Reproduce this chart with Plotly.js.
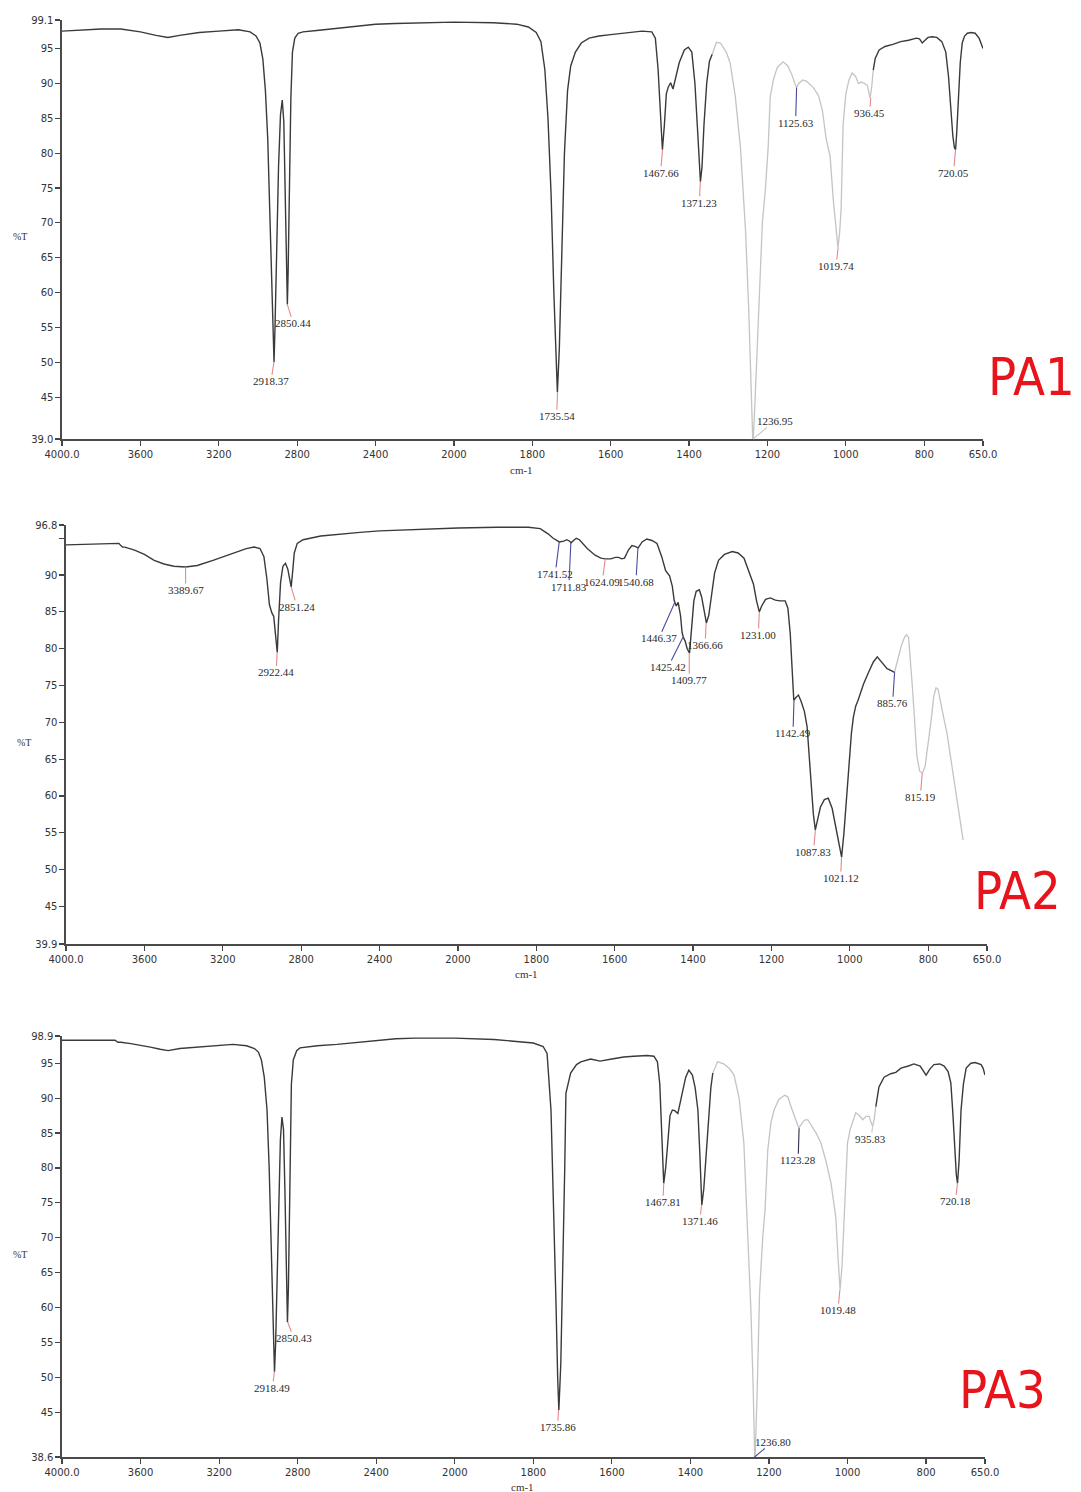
<!DOCTYPE html>
<html><head><meta charset="utf-8">
<script src="https://cdn.plot.ly/plotly-3.0.1.min.js"></script>
<style>html,body{margin:0;padding:0;background:#fff}#chart{width:1081px;height:1492px}</style>
</head><body><div id="chart"></div>
<script>
// ---------- DATA ----------
const xTickWn = [4000,3600,3200,2800,2400,2000,1800,1600,1400,1200,1000,800,650];
const xTickText = ["4000.0","3600","3200","2800","2400","2000","1800","1600","1400","1200","1000","800","650.0"];

const pa1YTicks = [39.0,45,50,55,60,65,70,75,80,85,90,95,99.1];
const pa1YText = ["39.0","45","50","55","60","65","70","75","80","85","90","95","99.1"];
const pa2YTicks = [39.9,45,50,55,60,65,70,75,80,85,90,95,96.8];
const pa2YText = ["39.9","45","50","55","60","65","70","75","80","85","90","","96.8"];
const pa3YTicks = [38.6,45,50,55,60,65,70,75,80,85,90,95,98.9];
const pa3YText = ["38.6","45","50","55","60","65","70","75","80","85","90","95","98.9"];

const pa1Wn = [4000,3900,3800,3700,3600,3520,3460,3400,3300,3200,3100,3040,3010,2990,2975,2962,2950,2940,2930,2922,2918,2913,2905,2895,2885,2876,2868,2862,2856,2850,2846,2840,2832,2824,2812,2795,2770,2700,2600,2500,2400,2300,2200,2100,2000,1900,1840,1810,1790,1778,1768,1760,1752,1745,1740,1736,1731,1725,1718,1710,1702,1690,1675,1655,1630,1600,1560,1520,1495,1486,1479,1473,1468,1463,1458,1453,1447,1441,1435,1425,1412,1402,1393,1385,1379,1374,1371,1367,1362,1355,1348,1341,
1330,1320,1305,1295,1282,1269,1256,1248,1242,1237,1232,1228,1220,1213,1205,1198,1193,1185,1175,1160,1148,1138,1130,1126,1120,1110,1100,1083,1070,1060,1050,1040,1032,1025,1020,1016,1012,1007,1000,992,984,975,968,960,952,945,938,934,930,
925,915,900,880,860,840,820,812,805,798,790,780,768,755,745,738,732,727,723,720,717,713,708,703,697,690,680,670,660,650];
const pa1T = [97.5,97.7,97.8,97.8,97.4,96.9,96.6,96.9,97.3,97.5,97.7,97.4,96.8,95.8,93.5,89,82,72,61,53,50.0,55,66,78,85.5,87.6,84.5,76,65,58.3,63,76,88,94.5,96.5,97.2,97.4,97.6,97.9,98.3,98.5,98.6,98.7,98.7,98.8,98.7,98.5,98.1,97.3,96,92,85,74,60,50,45.7,52,65,80,89,92.5,94.5,95.8,96.5,96.8,97.0,97.3,97.5,97.4,96.5,92,85,80.5,84,88.5,89.5,90.1,89.2,90.5,93.0,94.8,95.2,94.5,90,84,78,75.9,78,84,90,93.2,94.2,
95.9,95.8,94.5,92.9,88.1,80.9,69,58,48,38.0,44,50,62,70,75,81,88,90.5,92.3,93.1,92.5,91.3,90.0,89.4,90.0,90.5,90.3,89.4,88.3,86.2,82,79.5,73.3,69,66.4,68.5,72,84,88.5,90.5,91.5,91.0,90.0,90.2,90.0,89.7,87.9,89.5,91.9,
93.6,94.8,95.3,95.6,96.0,96.2,96.5,96.4,95.8,96.2,96.6,96.7,96.6,96.0,94.5,91,86,82.5,80.8,80.5,83,88,93,95.8,96.8,97.2,97.3,97.2,96.5,95.0];

const pa2Wn = [4000,3900,3800,3730,3720,3712,3700,3650,3600,3550,3500,3450,3390,3330,3250,3150,3080,3040,3010,2990,2975,2962,2950,2940,2932,2922,2915,2905,2893,2880,2868,2858,2851,2845,2835,2820,2790,2700,2600,2500,2400,2300,2200,2100,2000,1900,1820,1790,1770,1757,1741,1730,1722,1715,1711,1705,1698,1690,1670,1650,1635,1624,1610,1598,1590,1582,1575,1565,1556,1548,1540,1530,1518,1505,1492,1480,1470,1460,1453,1448,1443,1438,1432,1428,1425,1420,1415,1409,1403,1398,1392,1384,1378,1372,1366,1360,1352,1345,1335,1320,1300,1285,1270,1258,1246,1238,1231,1225,1215,1203,1190,1178,1165,1158,1152,1147,1143,1137,1131,1124,1116,1109,1100,1093,1088,1083,1075,1065,1055,1045,1035,1027,1021,1015,1008,1004,996,991,985,979,965,953,940,930,918,905,897,890,886,
878,868,860,855,850,845,840,835,829,822,815,808,800,792,786,780,775,768,760,752,742,735,727,718,711];
const pa2T = [94.1,94.2,94.3,94.3,94.0,93.8,93.8,93.4,92.8,92.0,91.5,91.2,91.1,91.3,92.0,93.0,93.6,93.8,93.6,92.5,89.5,86,84.9,84.4,82,79.5,84,89,91.2,91.6,90.8,89,88.4,90,93,94.3,94.8,95.3,95.6,95.8,96.0,96.1,96.2,96.3,96.4,96.5,96.5,96.3,95.6,95.0,94.5,94.6,94.8,94.6,94.4,94.7,95.0,94.8,93.6,92.7,92.3,92.2,92.2,92.4,92.4,92.2,92.3,93.4,94.0,93.9,93.7,94.5,94.9,94.7,94.3,92.5,90.6,89.9,88.5,86.5,85.8,86.3,84.5,82.2,81.6,81.0,80.0,79.4,83,86.5,87.8,88.0,87,85,83.5,84.5,88,90.3,92,92.8,93.2,93.0,92.3,90.5,88.8,86.5,85.0,85.8,86.7,86.9,86.6,86.5,86.5,85.5,82,77,73.0,73.4,73.7,72.8,71.5,69.4,63,57.5,55.4,56.5,58.5,59.5,59.7,58.3,55.5,53,51.7,55,60,63.9,68.5,70.7,72.2,73.0,75.2,76.7,78.2,78.9,78.2,77.3,77.1,76.9,76.8,
78.5,80.5,81.6,81.9,81.5,78.5,74.5,70.5,65.5,63.4,63.1,64,67,70.5,73.5,74.7,74.5,72.5,70.5,68.5,65,62,59.4,56.5,54.0];

const pa3Wn = [4000,3900,3800,3730,3715,3700,3650,3600,3550,3500,3460,3400,3300,3200,3130,3060,3020,3000,2985,2970,2956,2945,2935,2925,2918,2912,2905,2897,2888,2880,2872,2865,2858,2852,2847,2842,2838,2832,2822,2805,2788,2700,2600,2500,2400,2300,2200,2000,1900,1850,1800,1775,1765,1755,1748,1742,1738,1735,1730,1725,1720,1717,1705,1690,1679,1654,1630,1600,1570,1544,1510,1493,1484,1478,1473,1468,1463,1458,1452,1446,1440,1432,1426,1420,1412,1404,1395,1388,1381,1376,1371,1366,1360,1356,1348,1343,
1331,1315,1300,1289,1276,1264,1255,1246,1240,1236,1230,1224,1216,1210,1203,1195,1187,1175,1160,1152,1144,1135,1128,1124,1115,1108,1101,1090,1080,1068,1055,1042,1030,1024,1019,1014,1009,1004,1000,993,986,979,970,961,953,945,940,936,932,928,
920,907,890,877,864,845,831,815,800,790,780,765,754,744,737,732,728,723,720,716,711,705,698,686,675,668,660,655,650];
const pa3T = [98.3,98.3,98.3,98.3,98.0,98.0,97.8,97.6,97.3,97.0,96.8,97.1,97.3,97.5,97.7,97.5,97.1,96.6,95.5,93,88.3,80,68,57,50.8,55,65,76,84,87.3,85.5,77,66,57.9,63,75,86,92,95.5,96.8,97.2,97.5,97.7,98.0,98.3,98.5,98.6,98.6,98.4,98.2,97.9,97.4,96.4,88.3,75,60,50,45.3,52,65,80,90.7,93.6,94.8,95.2,95.6,95.3,95.6,95.9,96.0,96.1,96.0,95.2,92,86,77.8,80,83.6,87.5,88.3,88.2,87.8,89.5,90.7,93.0,94.0,93.3,91.5,88.3,82,74.7,77,82,85.9,91.5,93.6,
95.2,94.9,94.2,93.3,90,83.6,72,59.6,48,37.5,48,62,70,74,82.6,86.5,88.3,89.8,90.4,90.2,88.8,87.3,86.2,85.7,86.5,86.9,86.9,86.0,85.0,83.6,81,77.8,73.0,67,62.5,66,73.0,79,83.6,85.6,86.9,87.9,87.5,86.9,87.4,87.4,86.5,86.0,87.0,88.8,
91.6,93.0,93.5,93.7,94.3,94.6,94.9,94.6,93.3,94.2,94.8,94.9,94.6,93.8,92.2,88,83.6,79,77.8,81,88.3,92,94.3,95.0,95.1,95.0,94.8,94.3,93.3];

// greyed-out (un-annotated) wavenumber ranges [high, low]
const pa1Grey = [1341, 930];
const pa2Grey = [886, 0];
const pa3Grey = [1343, 928];

// peak picks: label, wavenumber, %T at the curve
const pa1PeakLabel = ["2918.37","2850.44","1735.54","1467.66","1371.23","1236.95","1125.63","1019.74","936.45","720.05"];
const pa1PeakWn = [2918.37,2850.44,1735.54,1467.66,1371.23,1236.95,1125.63,1019.74,936.45,720.05];
const pa1PeakT = [50.0,58.3,45.7,80.5,75.9,39.0,89.4,66.4,87.9,80.5];

const pa2PeakLabel = ["3389.67","2922.44","2851.24","1741.52","1711.83","1624.09","1540.68","1446.37","1425.42","1409.77","1366.66","1231.00","1142.49","1087.83","1021.12","885.76","815.19"];
const pa2PeakWn = [3389.67,2922.44,2851.24,1741.52,1711.83,1624.09,1540.68,1446.37,1425.42,1409.77,1366.66,1231.00,1142.49,1087.83,1021.12,885.76,815.19];
const pa2PeakT = [91.1,79.5,88.4,94.5,94.4,92.2,93.7,86.3,81.6,79.4,83.5,85.0,73.0,55.4,51.7,76.8,63.1];

const pa3PeakLabel = ["2918.49","2850.43","1735.86","1467.81","1371.46","1236.80","1123.28","1019.48","935.83","720.18"];
const pa3PeakWn = [2918.49,2850.43,1735.86,1467.81,1371.46,1236.80,1123.28,1019.48,935.83,720.18];
const pa3PeakT = [50.8,57.9,45.3,77.8,74.7,38.6,85.7,62.5,86.0,77.8];

// ---------- STYLE / LAYOUT (label placement, tie colours) ----------
const RED = "#e58a8a", BLUE = "#4b4b9c", GREY = "#c9c9c9", NAVY = "#2e2e4a";
const pa1Style = [[RED,-3,19],[RED,6,19],[RED,-1,24],[RED,-2,23],[RED,-1,21],[GREY,22,-18],[BLUE,-1,35],[RED,-2,18],[RED,-1,15],[RED,-2,23]];
const pa2Style = [[RED,0,23],[RED,-1,20],[RED,6,20],[BLUE,-4,32],[BLUE,-2,44],[RED,-3,23],[BLUE,-2,34],[BLUE,-16,36],[BLUE,-15,30],[RED,0,27],[RED,-1,22],[RED,-1,23],[BLUE,-1,33],[RED,-2,22],[RED,-1,21],[BLUE,-2,31],[RED,-2,24]];
const pa3Style = [[RED,-2,16],[RED,6,16],[RED,-1,17],[RED,-1,19],[RED,-2,16],[BLUE,18,-15],[NAVY,-1,32],[RED,-2,20],[GREY,-2,13],[RED,-2,18]];

function u(w){ return w <= 2000 ? w : 2000 + (w - 2000) / 2; }

function segTraces(wn, t, grey, xa, ya){
  const dx=[], dy=[], lx=[], ly=[];
  let gap=false;
  for(let i=0;i<wn.length;i++){
    const w=wn[i];
    const inGrey = (w <= grey[0] && w >= grey[1]);
    const isDark = (w >= grey[0] || w <= grey[1]);
    if(inGrey){ lx.push(u(w)); ly.push(t[i]); }
    if(isDark){ dx.push(u(w)); dy.push(t[i]); gap=false; }
    else if(!gap){ dx.push(null); dy.push(null); gap=true; }
  }
  return [
    {x:lx,y:ly,xaxis:xa,yaxis:ya,mode:'lines',line:{color:'#c4c4c4',width:1.3},hoverinfo:'skip',showlegend:false},
    {x:dx,y:dy,xaxis:xa,yaxis:ya,mode:'lines',line:{color:'#3a3a3a',width:1.4},connectgaps:false,hoverinfo:'skip',showlegend:false}
  ];
}

function peakAnn(labels, wns, ts, styles, suf){
  return labels.map((lab,i)=>({
    x:u(wns[i]), y:ts[i], xref:'x'+suf, yref:'y'+suf, text:lab,
    showarrow:true, arrowhead:0, arrowwidth:1.1, arrowcolor:styles[i][0],
    ax:styles[i][1], ay:styles[i][2], standoff:0, borderpad:0,
    font:{family:'Liberation Serif, Times New Roman, serif', size:11, color:'#2a2a2a'}
  }));
}

const W=1081, H=1492;
function xd(a,b){ return [a/W, b/W]; }
function yd(top,bot){ return [1-bot/H, 1-top/H]; }

function xAxis(dom, anchor){
  return {domain:dom, anchor:anchor, range:[u(4000), u(650)], tickmode:'array',
    tickvals:xTickWn.map(u), ticktext:xTickText, ticks:'outside', ticklen:5, tickwidth:1.2,
    tickcolor:'#444', showline:true, linecolor:'#4a4a4a', linewidth:1.6, showgrid:false,
    zeroline:false, fixedrange:true, tickfont:{family:'DejaVu Sans, sans-serif', size:10, color:'#333'}};
}
function yAxis(dom, anchor, ticks, text){
  return {domain:dom, anchor:anchor, range:[ticks[0], ticks[ticks.length-1]], tickmode:'array',
    tickvals:ticks, ticktext:text, ticks:'outside', ticklen:5, tickwidth:1.2, tickcolor:'#444',
    showline:true, linecolor:'#4a4a4a', linewidth:1.6, showgrid:false, zeroline:false, fixedrange:true,
    tickfont:{family:'DejaVu Sans, sans-serif', size:10, color:'#333'}};
}

const traces = [].concat(
  segTraces(pa1Wn, pa1T, pa1Grey, 'x', 'y'),
  segTraces(pa2Wn, pa2T, pa2Grey, 'x2', 'y2'),
  segTraces(pa3Wn, pa3T, pa3Grey, 'x3', 'y3')
);

const txt = (t,x,y,size,extra)=>Object.assign({text:t, xref:'paper', yref:'paper', x:x/W, y:1-y/H,
  showarrow:false, xanchor:'center', yanchor:'middle',
  font:{family:'Liberation Serif, Times New Roman, serif', size:size, color:'#333'}}, extra||{});
const bigFont = {family:'DejaVu Sans Condensed, Liberation Sans Narrow, Liberation Sans, sans-serif', size:52, color:'#e8141b'};

const annotations = [].concat(
  peakAnn(pa1PeakLabel, pa1PeakWn, pa1PeakT, pa1Style, ''),
  peakAnn(pa2PeakLabel, pa2PeakWn, pa2PeakT, pa2Style, '2'),
  peakAnn(pa3PeakLabel, pa3PeakWn, pa3PeakT, pa3Style, '3'),
  [
    txt('%T', 20, 237, 10), txt('%T', 24, 742, 10), txt('%T', 20, 1254, 10),
    txt('cm-1', 521, 470, 11), txt('cm-1', 526, 974, 11), txt('cm-1', 522, 1487, 11),
    txt('PA1', 1031, 377, 52, {font:bigFont}),
    txt('PA2', 1017, 891, 52, {font:bigFont}),
    txt('PA3', 1002, 1390, 52, {font:bigFont})
  ]
);

const layout = {
  width:W, height:H, margin:{l:0,r:0,t:0,b:0}, paper_bgcolor:'#fff', plot_bgcolor:'#fff',
  showlegend:false,
  xaxis: xAxis(xd(62,983), 'y'),
  yaxis: yAxis(yd(20,439), 'x', pa1YTicks, pa1YText),
  xaxis2: xAxis(xd(66,987), 'y2'),
  yaxis2: yAxis(yd(525,944), 'x2', pa2YTicks, pa2YText),
  xaxis3: xAxis(xd(62,985), 'y3'),
  yaxis3: yAxis(yd(1036,1457), 'x3', pa3YTicks, pa3YText),
  annotations: annotations
};

Plotly.newPlot('chart', traces, layout, {displayModeBar:false, staticPlot:true});
</script>
</body></html>
